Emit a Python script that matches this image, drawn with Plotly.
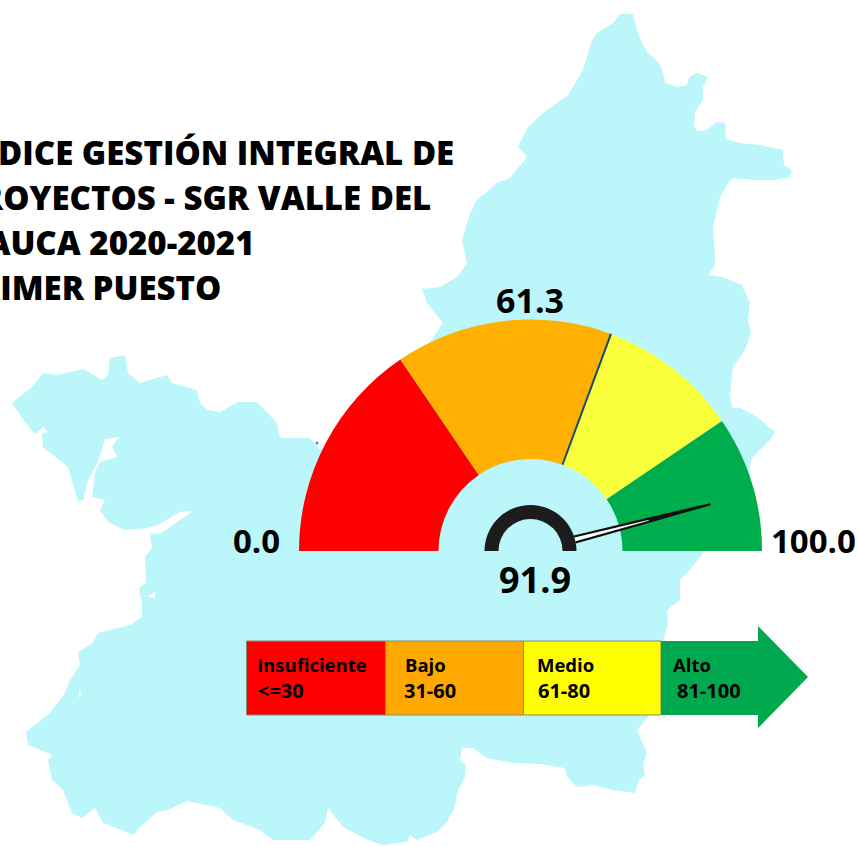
import numpy as np
import plotly.graph_objects as go

# ---- data ----
gauge_edges = [31, 61.3, 81, 100]
gauge_colors = ["#FF0000", "#FFB000", "#FAFF3C", "#00AD4C"]
needle_value = 91.9
threshold_value = 61.3
legend_names = ["Insuficiente", "Bajo", "Medio", "Alto"]
legend_ranges = ["<=30", "31-60", "61-80", "81-100"]
legend_colors = ["#FE0000", "#FFA800", "#FFFF00", "#00A94F"]
title_lines = ["ÍNDICE GESTIÓN INTEGRAL DE", "PROYECTOS - SGR VALLE DEL", "CAUCA 2020-2021", "PRIMER PUESTO"]

map_outline_x = [620,633,637,642,648,658,663,665,677,687,689,697,708,703,703,695,694,697,707,717,725,726,740,760,783,784,792,790,773,753,733,727,720,716,713,715,715,708,723,742,750,748,751,745,733,730,732,740,757,775,770,752,747,725,703,690,680,680,667,668,660,650,648,637,643,647,643,645,639,635,613,593,577,567,565,540,513,487,473,462,460,466,465,457,455,447,437,417,410,407,382,368,343,328,325,310,273,260,233,220,187,168,157,140,133,117,103,95,82,72,63,52,48,52,28,26,50,65,70,80,78,93,98,130,142,142,139,146,145,152,150,160,177,193,180,158,147,125,108,100,105,92,95,100,117,112,119,105,98,88,83,78,74,68,43,42,48,43,35,25,12,32,43,57,83,102,108,110,125,128,140,167,172,197,200,207,220,238,257,277,280,310,320,390,443,427,422,440,457,467,462,470,477,497,510,527,518,528,543,568,583,592,597,613]
map_outline_y = [14,14,30,43,53,62,72,83,87,85,77,73,77,87,100,112,125,131,130,122,123,139,143,145,150,165,170,177,180,180,178,185,197,213,227,257,265,275,277,285,303,320,333,350,367,393,408,408,417,432,440,458,480,520,553,570,580,600,610,625,650,700,717,730,743,753,763,775,780,793,790,785,787,777,768,764,763,758,748,748,760,765,777,793,807,822,832,840,835,842,845,840,827,808,823,840,840,830,820,808,801,810,812,827,835,828,823,808,818,813,790,780,760,755,745,732,713,693,680,665,652,643,633,625,617,603,588,583,557,548,533,534,522,511,512,525,528,530,522,510,500,497,472,462,457,447,437,439,462,480,500,501,488,467,447,433,432,427,434,422,403,387,373,375,369,380,375,358,355,373,383,375,383,390,403,410,412,402,402,423,438,438,450,400,323,303,289,287,277,263,240,213,200,183,178,157,147,127,113,95,70,40,33,23]
notch_a_x = [148, 155, 155]
notch_a_y = [596, 592, 599]
notch_b_x = [79, 82, 79]
notch_b_y = [690, 694, 698]

# ---- geometry of the gauge in page pixels ----
W, H = 857, 847
cx, cy, R, r_in = 530.5, 551, 231.5, 92
hub_out, hub_in = 46, 32
MAP = "#BBF6FA"


def angle(v):
    return np.pi * (1 - v / 100)


def polar(v, rad, half_width=0.0):
    a = angle(v) + half_width / rad
    return cx + rad * np.cos(a), cy - rad * np.sin(a)


def poly(points):
    return "M" + " L".join(f"{x:.2f},{y:.2f}" for x, y in points) + " Z"


fig = go.Figure()
fig.add_trace(go.Scatter(x=map_outline_x, y=map_outline_y, mode="lines", fill="toself",
                         fillcolor=MAP, line=dict(width=0, color=MAP), hoverinfo="skip", showlegend=False))
for nx, ny in [(notch_a_x, notch_a_y), (notch_b_x, notch_b_y)]:
    fig.add_trace(go.Scatter(x=nx, y=ny, mode="lines", fill="toself", fillcolor="#FFFFFF",
                             line=dict(width=0, color="#FFFFFF"), hoverinfo="skip", showlegend=False))
fig.add_trace(go.Scatter(x=[317], y=[443], mode="markers", marker=dict(size=3, color="#3A8FD0"),
                         hoverinfo="skip", showlegend=False))


def half_pie(values, colors, radius, hole):
    return go.Pie(values=list(values) + [sum(values)], sort=False, direction="clockwise", rotation=270,
                  hole=hole, textinfo="none", hoverinfo="skip", showlegend=False,
                  marker=dict(colors=colors + ["rgba(0,0,0,0)"], line=dict(width=0)),
                  domain=dict(x=[(cx - radius) / W, (cx + radius) / W],
                              y=[1 - (cy + radius) / H, 1 - (cy - radius) / H]))


spans = list(np.diff([0] + gauge_edges))
fig.add_trace(half_pie(spans, gauge_colors, R, r_in / R))
fig.add_trace(half_pie([100], ["#1C1C1C"], hub_out, hub_in / hub_out))

shapes = []
# threshold mark
x0, y0 = polar(threshold_value, r_in)
x1, y1 = polar(threshold_value, R)
shapes.append(dict(type="line", x0=x0, y0=y0, x1=x1, y1=y1, line=dict(color="#0F4C6E", width=2), layer="above"))
# needle: a dark blade with a white core near the hub
blade = [polar(needle_value, 46, 4.2), polar(needle_value, 125, 2.6), polar(needle_value, 186, 1.0),
         polar(needle_value, 186, -1.0), polar(needle_value, 125, -2.6), polar(needle_value, 46, -4.2)]
shapes.append(dict(type="path", path=poly(blade), fillcolor="#111111", line=dict(width=0), layer="above"))
core = [polar(needle_value, 46, 2.0), polar(needle_value, 122, 0.4), polar(needle_value, 122, -0.4), polar(needle_value, 46, -2.0)]
shapes.append(dict(type="path", path=poly(core), fillcolor="#FFFFFF", line=dict(width=0), layer="above"))

# legend band
band_left = [246.5, 385.5, 523.5]
band_right = [385.5, 523.5, 661]
band_top, band_bottom = 641, 715
for left, right, col in zip(band_left, band_right, legend_colors):
    shapes.append(dict(type="rect", x0=left, x1=right, y0=band_top, y1=band_bottom, fillcolor=col,
                       line=dict(color="#8A8A70", width=1), layer="above"))
arrow = [(661, band_top), (758, band_top), (758, 626), (808, 677), (758, 728), (758, band_bottom), (661, band_bottom)]
shapes.append(dict(type="path", path=poly(arrow), fillcolor=legend_colors[3], line=dict(width=0), layer="above"))

FONT = "Open Sans"
ann = []


def text(s, x, y, size, xanchor="center", weight=700):
    ann.append(dict(text=s, x=x, y=y, xref="x", yref="y", xanchor=xanchor, yanchor="middle",
                    showarrow=False, borderpad=0, font=dict(family=FONT, size=size, color="#000000", weight=weight)))


for line, right, y in zip(title_lines, [455, 432, 255, 222], [152, 197, 242, 287]):
    text(line, right, y, 33, xanchor="right", weight=800)
text("61.3", 530, 300, 34)
text("91.9", 535, 579, 36)
text("0.0", 281, 540, 33, xanchor="right")
text("100.0", 770, 540, 33, xanchor="left")
for name, x in zip(legend_names, [256, 404, 536, 672]):
    text(name, x, 664, 18.5, xanchor="left")
for rng, x in zip(legend_ranges, [257, 403, 537, 676]):
    text(rng, x, 690, 20, xanchor="left")

fig.update_layout(width=W, height=H, margin=dict(l=0, r=0, t=0, b=0), paper_bgcolor="#FFFFFF",
                  plot_bgcolor="#FFFFFF", shapes=shapes, annotations=ann, showlegend=False,
                  xaxis=dict(range=[0, W], visible=False, fixedrange=True),
                  yaxis=dict(range=[H, 0], visible=False, fixedrange=True))
fig.write_html("out.html", config={"displayModeBar": False},
               post_script="document.body.style.margin='0';document.documentElement.style.overflow='hidden';")
